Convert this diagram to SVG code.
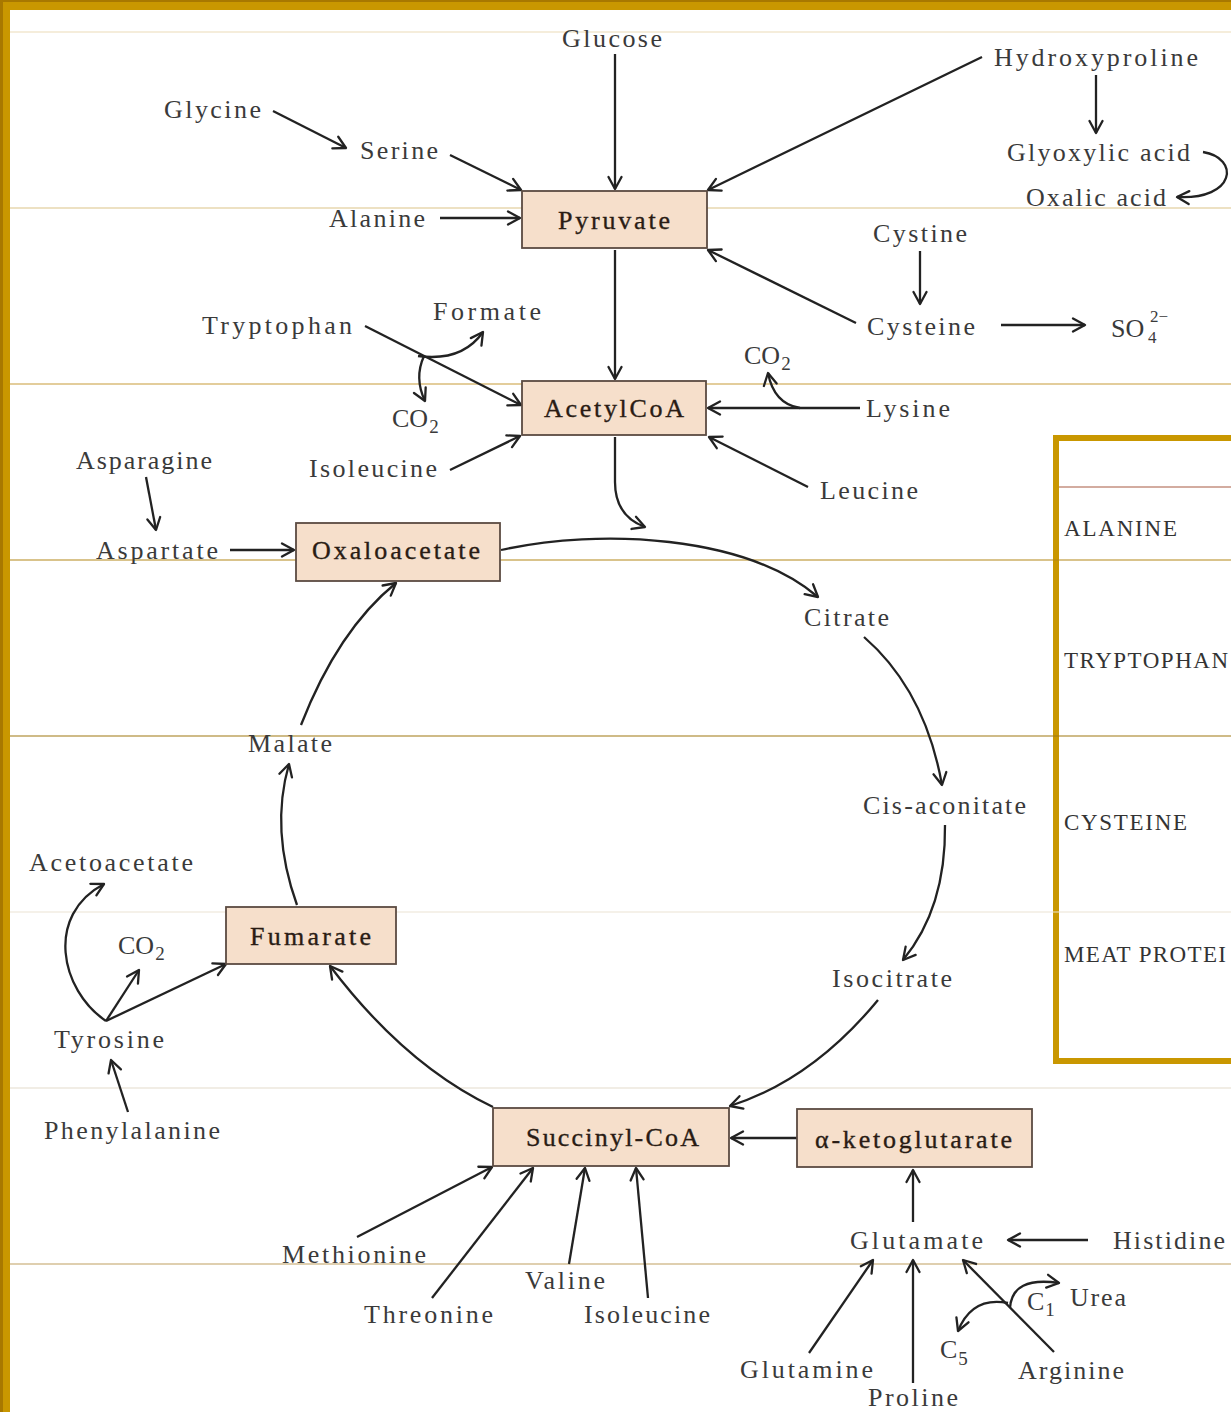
<svg xmlns="http://www.w3.org/2000/svg" width="1231" height="1412" viewBox="0 0 1231 1412">
<defs>
<marker id="ah" markerUnits="userSpaceOnUse" markerWidth="18" markerHeight="18" refX="14" refY="8" orient="auto">
<path d="M2,1.5 L14,8 L2,14.5" fill="none" stroke="#222" stroke-width="2.3" stroke-linecap="round" stroke-linejoin="round"/>
</marker>
</defs>
<style>
.t{font-family:"Liberation Serif","Times New Roman",serif;font-size:26px;fill:#3a3a3a;}
.bt{font-family:"Liberation Serif","Times New Roman",serif;font-size:26px;fill:#2a1c14;stroke:#2a1c14;stroke-width:0.35;}
.sub{font-size:19px;}
.box{fill:#f6dfcb;stroke:#5b4b42;stroke-width:1.8;}
.c{fill:none;stroke:#222;stroke-width:2.3;marker-end:url(#ah);}
.tb{font-family:"Liberation Serif","Times New Roman",serif;font-size:23px;fill:#333;}
</style>
<rect x="0" y="0" width="1231" height="1412" fill="#ffffff"/>
<g id="frame">
<rect x="1056" y="438" width="190" height="623" fill="#ffffff" stroke="#c99700" stroke-width="6"/>
<line x1="1059" y1="487" x2="1231" y2="487" stroke="#c49080" stroke-width="1.5"/>
<line x1="10" y1="32" x2="1231" y2="32" stroke="#ecdcb8" stroke-width="1.2"/>
<line x1="10" y1="208" x2="1231" y2="208" stroke="#dcc488" stroke-width="1.2"/>
<line x1="10" y1="384" x2="1231" y2="384" stroke="#c89c38" stroke-width="1.2"/>
<line x1="10" y1="560" x2="1231" y2="560" stroke="#b48818" stroke-width="1.2"/>
<line x1="10" y1="736" x2="1231" y2="736" stroke="#a07810" stroke-width="1.2"/>
<line x1="10" y1="912" x2="1231" y2="912" stroke="#ebe3d3" stroke-width="1.2"/>
<line x1="10" y1="1088" x2="1231" y2="1088" stroke="#e4dccb" stroke-width="1.2"/>
<line x1="10" y1="1264" x2="1231" y2="1264" stroke="#c0a060" stroke-width="1.2"/>
<rect x="0" y="0" width="1231" height="10" fill="#c99700"/>
<rect x="0" y="0" width="10" height="1412" fill="#c99700"/>
<rect x="0" y="0" width="3" height="1412" fill="#a87800"/>
<rect x="0" y="0" width="1231" height="2" fill="#a87800"/>
</g>
<g id="table-labels">
<text class="tb" x="1064" y="536" textLength="113" lengthAdjust="spacing">ALANINE</text>
<text class="tb" x="1064" y="668" textLength="164" lengthAdjust="spacing">TRYPTOPHAN</text>
<text class="tb" x="1064" y="830" textLength="123" lengthAdjust="spacing">CYSTEINE</text>
<text class="tb" x="1064" y="962" textLength="162" lengthAdjust="spacing">MEAT PROTEI</text>
</g>
<g id="connectors">
<line class="c" x1="273" y1="111" x2="346" y2="148"/>
<line class="c" x1="450" y1="155" x2="521" y2="190"/>
<line class="c" x1="615" y1="54" x2="615" y2="189"/>
<line class="c" x1="982" y1="57" x2="708" y2="190"/>
<line class="c" x1="1096" y1="75" x2="1096" y2="133"/>
<path class="c" d="M1203,152 C1240,158 1236,200 1177,197"/>
<line class="c" x1="440" y1="218" x2="520" y2="218"/>
<line class="c" x1="615" y1="250" x2="615" y2="379"/>
<line class="c" x1="856" y1="323" x2="708" y2="250"/>
<line class="c" x1="920" y1="251" x2="920" y2="304"/>
<line class="c" x1="1001" y1="325" x2="1085" y2="325"/>
<line class="c" x1="365" y1="326" x2="521" y2="405"/>
<path class="c" d="M418,356 Q462,362 483,332"/>
<path class="c" d="M424,356 Q414,378 425,401"/>
<line class="c" x1="860" y1="408" x2="708" y2="408"/>
<path class="c" d="M800,408 Q774,404 768,373"/>
<line class="c" x1="450" y1="470" x2="520" y2="436"/>
<line class="c" x1="808" y1="487" x2="709" y2="437"/>
<path class="c" d="M615,437 L615,482 Q615,516 645,527"/>
<line class="c" x1="146" y1="477" x2="156" y2="530"/>
<line class="c" x1="230" y1="550" x2="294" y2="550"/>
<path class="c" d="M501,550 C600,528 745,535 818,597"/>
<path class="c" d="M864,637 Q925,690 942,785"/>
<path class="c" d="M945,825 Q946,908 903,960"/>
<path class="c" d="M878,1000 Q812,1080 730,1106"/>
<line class="c" x1="797" y1="1138" x2="731" y2="1138"/>
<path class="c" d="M493,1107 Q405,1065 330,966"/>
<path class="c" d="M297,905 Q270,830 289,764"/>
<path class="c" d="M301,725 Q338,630 396,583"/>
<line class="c" x1="106" y1="1021" x2="226" y2="964"/>
<line class="c" x1="106" y1="1021" x2="139" y2="970"/>
<path class="c" d="M106,1021 C60,990 45,915 104,884"/>
<line class="c" x1="128" y1="1112" x2="111" y2="1060"/>
<line class="c" x1="357" y1="1237" x2="492" y2="1167"/>
<line class="c" x1="432" y1="1298" x2="533" y2="1168"/>
<line class="c" x1="569" y1="1264" x2="585" y2="1168"/>
<line class="c" x1="648" y1="1298" x2="636" y2="1168"/>
<line class="c" x1="913" y1="1222" x2="913" y2="1170"/>
<line class="c" x1="1088" y1="1240" x2="1008" y2="1240"/>
<line class="c" x1="809" y1="1353" x2="873" y2="1260"/>
<line class="c" x1="913" y1="1383" x2="913" y2="1260"/>
<line class="c" x1="1054" y1="1352" x2="963" y2="1260"/>
<path class="c" d="M1010,1308 Q1012,1276 1059,1283"/>
<path class="c" d="M1008,1303 Q972,1296 958,1331"/>
</g>
<g id="n-glucose"><text class="t" x="562" y="47" textLength="100" lengthAdjust="spacing">Glucose</text></g>
<g id="n-hydroxyproline"><text class="t" x="994" y="66" textLength="204" lengthAdjust="spacing">Hydroxyproline</text></g>
<g id="n-glycine"><text class="t" x="164" y="118" textLength="97" lengthAdjust="spacing">Glycine</text></g>
<g id="n-serine"><text class="t" x="360" y="159" textLength="78" lengthAdjust="spacing">Serine</text></g>
<g id="n-glyoxylic"><text class="t" x="1007" y="161" textLength="183" lengthAdjust="spacing">Glyoxylic acid</text></g>
<g id="n-oxalic"><text class="t" x="1026" y="206" textLength="140" lengthAdjust="spacing">Oxalic acid</text></g>
<g id="n-alanine"><text class="t" x="329" y="227" textLength="96" lengthAdjust="spacing">Alanine</text></g>
<g id="n-pyruvate"><rect class="box" x="522" y="191" width="185" height="57"/><text class="bt" x="558" y="229" textLength="112" lengthAdjust="spacing">Pyruvate</text></g>
<g id="n-cystine"><text class="t" x="873" y="242" textLength="94" lengthAdjust="spacing">Cystine</text></g>
<g id="n-tryptophan"><text class="t" x="202" y="334" textLength="150" lengthAdjust="spacing">Tryptophan</text></g>
<g id="n-formate"><text class="t" x="433" y="320" textLength="108" lengthAdjust="spacing">Formate</text></g>
<g id="n-cysteine"><text class="t" x="867" y="335" textLength="108" lengthAdjust="spacing">Cysteine</text></g>
<g id="n-so4"><text class="t" x="1111" y="337">SO</text><text class="t" style="font-size:17px" x="1148" y="343">4</text><text class="t" style="font-size:17px" x="1150" y="322">2−</text></g>
<g id="n-co2-lys"><text class="t" x="744" y="364">CO<tspan class="sub" dx="1" dy="6">2</tspan></text></g>
<g id="n-acetylcoa"><rect class="box" x="522" y="381" width="184" height="54"/><text class="bt" x="544" y="417" textLength="140" lengthAdjust="spacing">AcetylCoA</text></g>
<g id="n-lysine"><text class="t" x="866" y="417" textLength="84" lengthAdjust="spacing">Lysine</text></g>
<g id="n-co2-trp"><text class="t" x="392" y="427">CO<tspan class="sub" dx="1" dy="6">2</tspan></text></g>
<g id="n-asparagine"><text class="t" x="76" y="469" textLength="136" lengthAdjust="spacing">Asparagine</text></g>
<g id="n-isoleucine-top"><text class="t" x="309" y="477" textLength="128" lengthAdjust="spacing">Isoleucine</text></g>
<g id="n-leucine"><text class="t" x="820" y="499" textLength="98" lengthAdjust="spacing">Leucine</text></g>
<g id="n-aspartate"><text class="t" x="96" y="559" textLength="122" lengthAdjust="spacing">Aspartate</text></g>
<g id="n-oxaloacetate"><rect class="box" x="296" y="523" width="204" height="58"/><text class="bt" x="312" y="559" textLength="168" lengthAdjust="spacing">Oxaloacetate</text></g>
<g id="n-citrate"><text class="t" x="804" y="626" textLength="85" lengthAdjust="spacing">Citrate</text></g>
<g id="n-malate"><text class="t" x="248" y="752" textLength="84" lengthAdjust="spacing">Malate</text></g>
<g id="n-cisaconitate"><text class="t" x="863" y="814" textLength="163" lengthAdjust="spacing">Cis-aconitate</text></g>
<g id="n-acetoacetate"><text class="t" x="29" y="871" textLength="164" lengthAdjust="spacing">Acetoacetate</text></g>
<g id="n-co2-tyr"><text class="t" x="118" y="954">CO<tspan class="sub" dx="1" dy="6">2</tspan></text></g>
<g id="n-fumarate"><rect class="box" x="226" y="907" width="170" height="57"/><text class="bt" x="250" y="945" textLength="121" lengthAdjust="spacing">Fumarate</text></g>
<g id="n-isocitrate"><text class="t" x="832" y="987" textLength="120" lengthAdjust="spacing">Isocitrate</text></g>
<g id="n-tyrosine"><text class="t" x="54" y="1048" textLength="110" lengthAdjust="spacing">Tyrosine</text></g>
<g id="n-phenylalanine"><text class="t" x="44" y="1139" textLength="176" lengthAdjust="spacing">Phenylalanine</text></g>
<g id="n-succinylcoa"><rect class="box" x="493" y="1108" width="236" height="58"/><text class="bt" x="526" y="1146" textLength="173" lengthAdjust="spacing">Succinyl-CoA</text></g>
<g id="n-aketoglutarate"><rect class="box" x="797" y="1109" width="235" height="58"/><text class="bt" x="815" y="1148" textLength="197" lengthAdjust="spacing">α-ketoglutarate</text></g>
<g id="n-glutamate"><text class="t" x="850" y="1249" textLength="133" lengthAdjust="spacing">Glutamate</text></g>
<g id="n-histidine"><text class="t" x="1113" y="1249" textLength="112" lengthAdjust="spacing">Histidine</text></g>
<g id="n-methionine"><text class="t" x="282" y="1263" textLength="144" lengthAdjust="spacing">Methionine</text></g>
<g id="n-valine"><text class="t" x="525" y="1289" textLength="80" lengthAdjust="spacing">Valine</text></g>
<g id="n-c1"><text class="t" x="1027" y="1310">C<tspan class="sub" dx="1" dy="6">1</tspan></text></g>
<g id="n-urea"><text class="t" x="1070" y="1306" textLength="56" lengthAdjust="spacing">Urea</text></g>
<g id="n-threonine"><text class="t" x="364" y="1323" textLength="129" lengthAdjust="spacing">Threonine</text></g>
<g id="n-isoleucine-bottom"><text class="t" x="584" y="1323" textLength="126" lengthAdjust="spacing">Isoleucine</text></g>
<g id="n-c5"><text class="t" x="940" y="1358">C<tspan class="sub" dx="1" dy="7">5</tspan></text></g>
<g id="n-glutamine"><text class="t" x="740" y="1378" textLength="133" lengthAdjust="spacing">Glutamine</text></g>
<g id="n-arginine"><text class="t" x="1018" y="1379" textLength="106" lengthAdjust="spacing">Arginine</text></g>
<g id="n-proline"><text class="t" x="868" y="1406" textLength="90" lengthAdjust="spacing">Proline</text></g>
</svg>
